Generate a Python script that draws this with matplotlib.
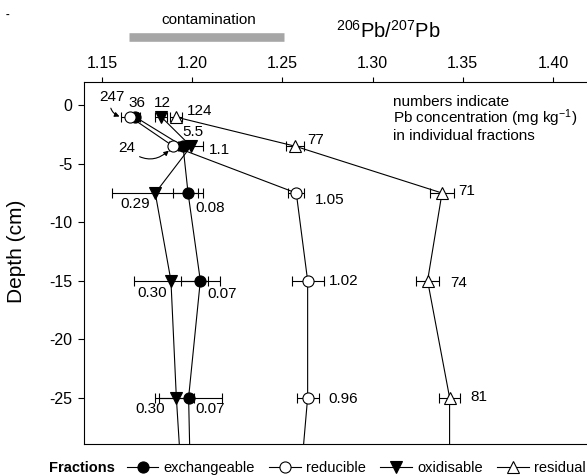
import matplotlib
matplotlib.use("Agg")
import matplotlib.pyplot as plt
from matplotlib.lines import Line2D
import matplotlib.transforms as mtransforms

plt.rcParams['font.family'] = ['Liberation Sans', 'DejaVu Sans']
plt.rcParams['mathtext.fontset'] = 'custom'
plt.rcParams['mathtext.rm'] = 'Liberation Sans'
plt.rcParams['mathtext.it'] = 'Liberation Sans:italic'
plt.rcParams['axes.unicode_minus'] = False

# sample depths (cm); the last one lies below the plotted range
depth = [-1, -3.5, -7.5, -15, -25, -35]

# 206Pb/207Pb ratios and their errors per fraction
exch = [1.1685, 1.1949, 1.1977, 1.2045, 1.1980, 1.1994]
exch_err = [0.0017, 0.0010, 0.0081, 0.0108, 0.0185, 0.0185]
red = [1.1657, 1.1895, 1.2577, 1.2640, 1.2640, 1.2584]
red_err = [0.0053, 0.0026, 0.0044, 0.0089, 0.0061, 0.0061]
oxid = [1.1829, 1.1993, 1.1795, 1.1882, 1.1912, 1.1953]
oxid_err = [0.0033, 0.0067, 0.0238, 0.0203, 0.0098, 0.0098]
resid = [1.1910, 1.2572, 1.3385, 1.3305, 1.3427, 1.3427]
resid_err = [0.0032, 0.0050, 0.0067, 0.0063, 0.0057, 0.0057]

# Pb concentration (mg/kg) labels
exch_conc = ['36', '5.5', '0.08', '0.07', '0.07']
red_conc = ['247', '24', '1.05', '1.02', '0.96']
oxid_conc = ['12', '1.1', '0.29', '0.30', '0.30']
resid_conc = ['124', '77', '71', '74', '81']

contamination = [1.165, 1.251]
xticks = [1.15, 1.20, 1.25, 1.30, 1.35, 1.40]
yticks = [0, -5, -10, -15, -20, -25]

fig = plt.figure(figsize=(5.87, 4.75), dpi=100)
ax = fig.add_axes([84 / 587, 30.7 / 475, 505 / 587, 362.3 / 475])

lw = 0.8
styles = [
    (exch, exch_err, 'o', 'k', 8),
    (red, red_err, 'o', 'white', 8),
    (oxid, oxid_err, 'v', 'k', 8.5),
    (resid, resid_err, '^', 'white', 9),
]
for xs, err, mk, fc, ms in styles:
    ax.errorbar(xs, depth, xerr=err, fmt='-' + mk, color='k', mfc=fc, mec='k',
                ms=ms, mew=lw, lw=lw, elinewidth=lw, capsize=3.6, capthick=lw)

# concentration labels (offsets in points)
off_exch = [(1.4, 9.9), (7.2, 10.3), (16, -11), (15.6, -9.7), (15.6, -8.5)]
off_red = [None, None, (23.8, -5.3), (25.9, -0.1), (25.9, -1.3)]
off_oxid = [(0.7, 9.9), (20.4, -2.9), (-14.4, -8.1), (-13.7, -8.8), (-18.7, -8.5)]
off_resid = [(16.8, 4.3), (14.4, 4.8), (18, 1.4), (22.3, -2), (20.9, 0.6)]

for xs, labs, offs in [(exch, exch_conc, off_exch), (red, red_conc, off_red),
                       (oxid, oxid_conc, off_oxid), (resid, resid_conc, off_resid)]:
    for i, (lab, off) in enumerate(zip(labs, offs)):
        if off is None:
            continue
        ax.annotate(lab, (xs[i], depth[i]), xytext=off, textcoords='offset points',
                    ha='center', va='center', fontsize=11)

# labels with curved arrows
arrow = dict(arrowstyle='-|>', connectionstyle='arc3,rad=0.5', color='k',
             lw=0.8, mutation_scale=7, shrinkA=1)
ax.annotate(red_conc[0], (red[0] - red_err[0], depth[0]), xytext=(-6.5, 14.4),
            textcoords='offset points', ha='center', va='center', fontsize=11,
            arrowprops=dict(arrow, shrinkB=1))
ax.annotate(red_conc[1], (red[1], depth[1]), xytext=(-33.3, -1.4),
            textcoords='offset points', ha='center', va='center', fontsize=11,
            arrowprops=dict(arrow, shrinkB=4.5))

ax.set_xlim(1.14, 1.42)
ax.set_ylim(-29, 2)
ax.xaxis.tick_top()
ax.set_xticks(xticks)
ax.set_xticklabels([f'{t:.2f}' for t in xticks])
ax.set_yticks(yticks)
ax.tick_params(axis='x', direction='out', length=3.6, width=0.8, pad=4, labelsize=11.5)
ax.tick_params(axis='y', direction='out', length=4.3, width=0.8, pad=4, labelsize=11.5)
for s in ax.spines.values():
    s.set_linewidth(0.8)

# contamination bar above the axes
trans = mtransforms.blended_transform_factory(ax.transData, ax.transAxes)
ax.plot(contamination, [1.123, 1.123], transform=trans, color='#a6a6a6', lw=6.2,
        solid_capstyle='butt', clip_on=False)
fig.text(209 / 587, 0.957, 'contamination', ha='center', va='center', fontsize=11)
fig.text(388 / 587, 0.92, r'$^{206}$Pb/$^{207}$Pb', ha='center', va='baseline', fontsize=14.5)

fig.text(17 / 587, 0.4716, 'Depth (cm)', rotation=90, ha='center', va='center', fontsize=15)

note = ['numbers indicate', r'Pb concentration (mg kg$^{-1}$)', 'in individual fractions']
for line, yb in zip(note, [0.7775, 0.7417, 0.7053]):
    fig.text(393 / 587, yb, line, ha='left', va='baseline', fontsize=11)

fig.text(8 / 587, (475 - 15) / 475, '-', fontsize=8, weight='bold', ha='center', va='center')

handles = [Line2D([], [], color='k', marker=mk, mfc=fc, mec='k', ms=ms, mew=lw, lw=lw)
           for _, _, mk, fc, ms in styles]
fig.legend(handles, ['exchangeable', 'reducible', 'oxidisable', 'residual'],
           loc='center left', bbox_to_anchor=(126.7 / 587, 6.7 / 475), ncol=4,
           frameon=False, fontsize=10.5, handlelength=2.17, handletextpad=0.34,
           columnspacing=1.0, borderpad=0, borderaxespad=0)
fig.text(115 / 587, 6.7 / 475, 'Fractions', ha='right', va='center',
         fontsize=10.5, weight='bold')

fig.savefig('out.png', dpi=100)
